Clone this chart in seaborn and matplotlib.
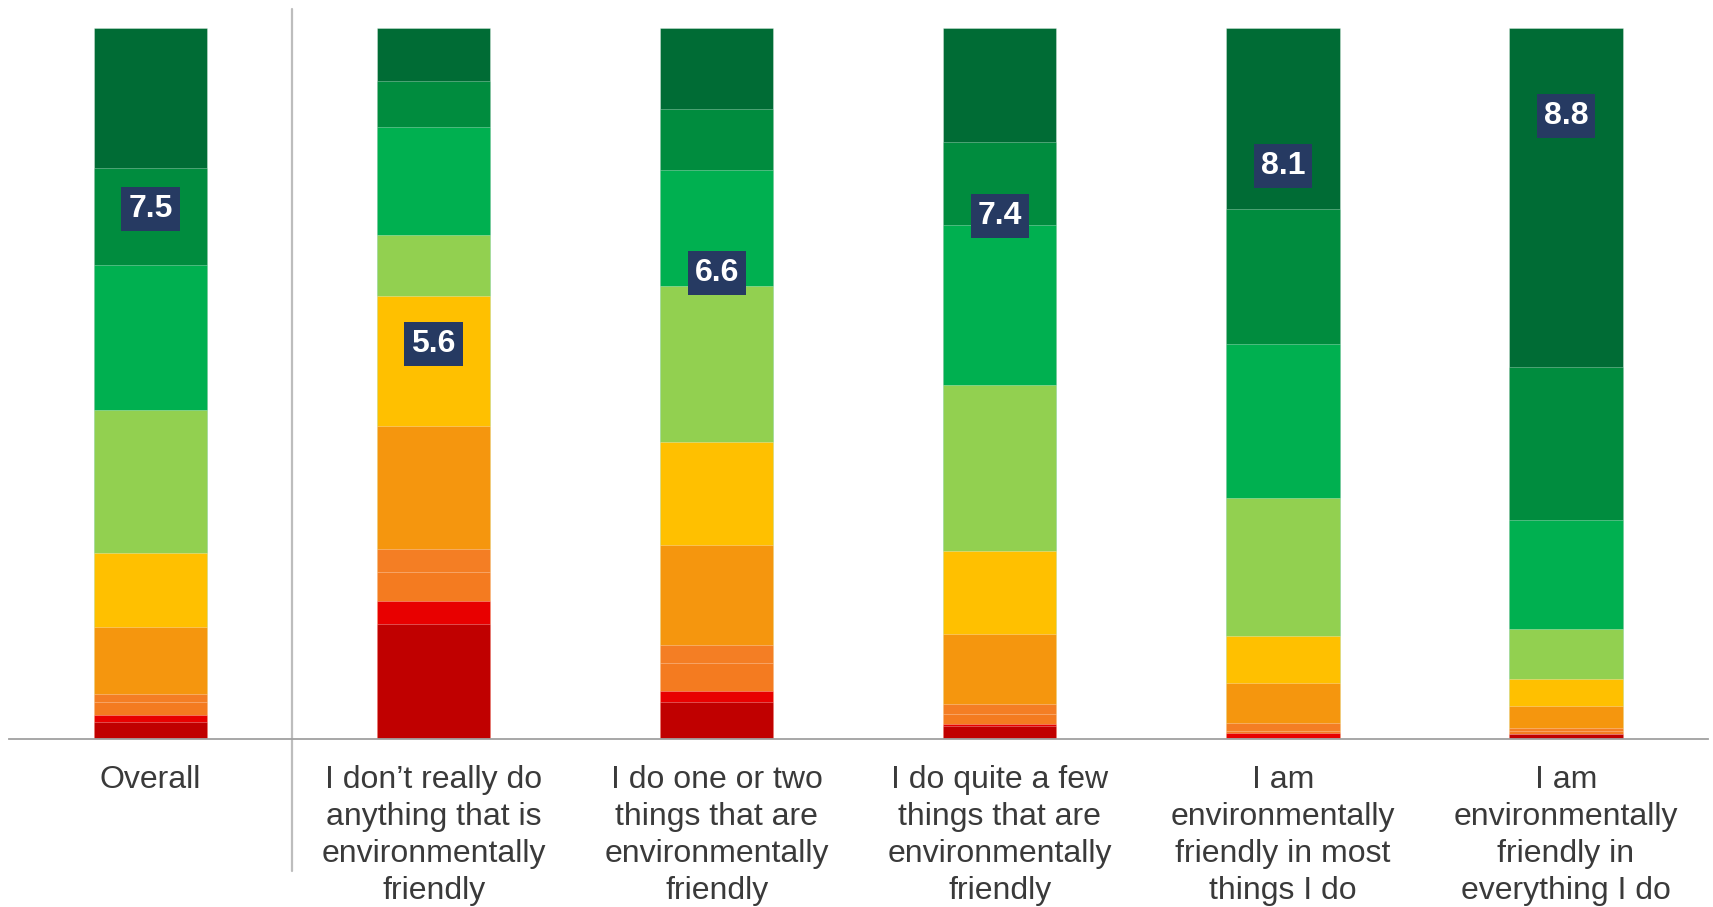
import numpy as np
import pandas as pd
import matplotlib.pyplot as plt
import seaborn as sns

categories = [
    "Overall",
    "I don\u2019t really do\nanything that is\nenvironmentally\nfriendly",
    "I do one or two\nthings that are\nenvironmentally\nfriendly",
    "I do quite a few\nthings that are\nenvironmentally\nfriendly",
    "I am\nenvironmentally\nfriendly in most\nthings I do",
    "I am\nenvironmentally\nfriendly in\neverything I do",
]

# share of respondents (%) giving each score, one list per score, one value per category
score_1 = [2.4, 16.1, 5.2, 1.7, 0.1, 0.6]
score_2 = [0.9, 3.2, 1.5, 0.4, 0.7, 0.1]
score_3 = [1.8, 4.2, 4.0, 1.4, 0.3, 0.4]
score_4 = [1.2, 3.2, 2.5, 1.3, 1.1, 0.4]
score_5 = [9.4, 17.2, 14.1, 9.9, 5.6, 3.1]
score_6 = [10.5, 18.4, 14.5, 11.7, 6.6, 3.8]
score_7 = [20.2, 8.6, 21.9, 23.4, 19.5, 7.0]
score_8 = [20.4, 15.1, 16.3, 22.5, 21.7, 15.4]
score_9 = [13.7, 6.5, 8.6, 11.7, 19.0, 21.6]
score_10 = [19.7, 7.4, 11.4, 16.0, 25.5, 47.7]

mean_scores = [7.5, 5.6, 6.6, 7.4, 8.1, 8.8]

score_colors = ["#C00000", "#E80000", "#F47B20", "#F47E24", "#F5960E",
                "#FFC000", "#92D050", "#00B050", "#008C3E", "#006C35"]

series = [score_1, score_2, score_3, score_4, score_5,
          score_6, score_7, score_8, score_9, score_10]

df = pd.DataFrame({"category": categories})
for k, vals in enumerate(series, start=1):
    df[f"s{k}"] = vals
totals = df[[f"s{k}" for k in range(1, 11)]].sum(axis=1)
cum = np.zeros(len(df))
for k in range(1, 11):
    cum = cum + df[f"s{k}"] / totals * 100
    df[f"cum{k}"] = cum

sns.set_theme(style="white")
plt.rcParams["font.family"] = ["Liberation Sans", "DejaVu Sans"]

fig = plt.figure(figsize=(17.13, 9.07), dpi=100)
ax = fig.add_axes([0.0053, 0.1857, 0.9915, 0.783])

# stack by drawing cumulative bars from the top score down
for k in range(10, 0, -1):
    sns.barplot(data=df, x="category", y=f"cum{k}", color=score_colors[k - 1],
                width=0.4, saturation=1, errorbar=None, ax=ax,
                edgecolor=(1, 1, 1, 0.35), linewidth=0.6)

for i, m in enumerate(mean_scores):
    ax.text(i, m * 10 - 0.4, f"{m:.1f}", ha="center", va="center", color="white",
            fontsize=23, fontweight="bold",
            bbox=dict(boxstyle="square,pad=0.22", fc="#263A62", ec="none"))

ax.set_xlim(-0.5, 5.5)
ax.set_ylim(0, 100)
ax.set_xlabel("")
ax.set_ylabel("")
ax.set_yticks([])
for side in ["top", "right", "left"]:
    ax.spines[side].set_visible(False)
ax.spines["bottom"].set_color("#A0A0A0")
ax.spines["bottom"].set_linewidth(1.3)

ax.set_xticks(range(len(categories)))
ax.set_xticklabels(categories, fontsize=23, color="#3A3A3A", linespacing=1.3)
ax.tick_params(axis="x", which="major", length=0, pad=19)
ax.set_xticks(np.arange(-0.5, 6, 1), minor=True)
ax.tick_params(axis="x", which="minor", length=8, width=1.3, color="#A0A0A0",
               direction="out")

# divider between overall and the groups
ax.plot([0.5, 0.5], [102.8, -18.6], color="#BDBDBD", lw=1.6, clip_on=False)

fig.savefig("out.png", dpi=100)
